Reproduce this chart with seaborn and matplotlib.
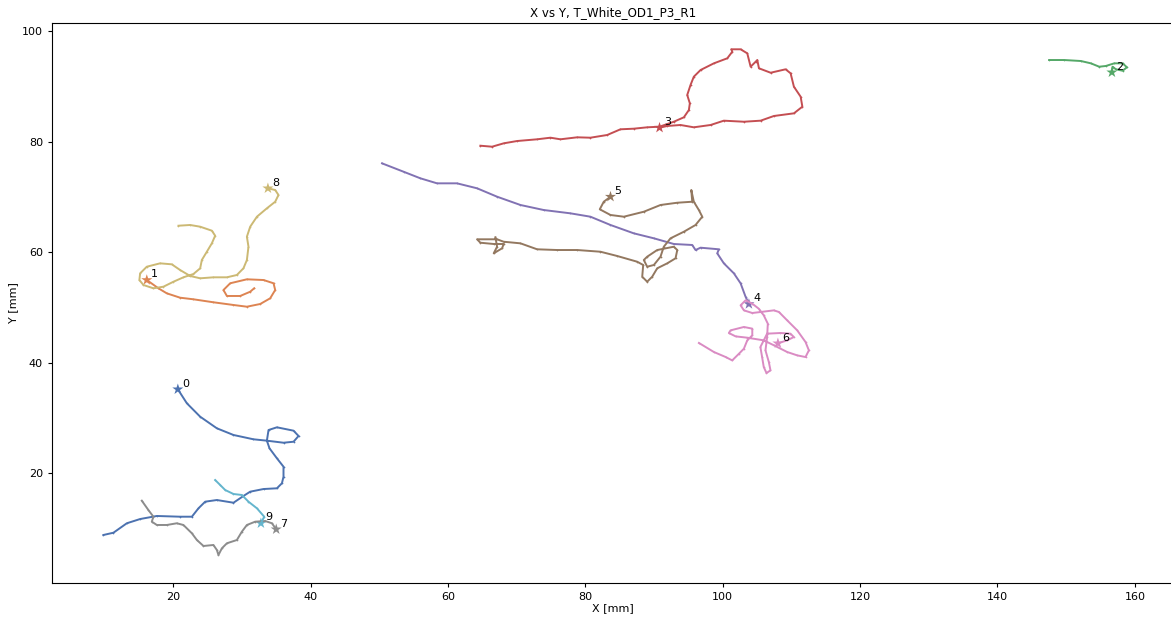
"""
Trajectory plot - X vs Y positions of tracked animals
"""

import numpy as np
import pandas as pd
import matplotlib
matplotlib.use("Agg")
import matplotlib.pyplot as plt
import seaborn as sns

TITLE = "X vs Y, T_White_OD1_P3_R1"

# track 0
x0 = [20.69, 22.0, 23.94, 26.37, 28.79, 31.70, 33.65, 36.07, 37.53, 38.26, 37.53, 35.11, 33.89,
      33.65, 34.03, 35.11, 36.07, 36.07, 35.84, 35.11, 33.16, 31.22, 30.24, 28.79, 26.37, 24.67,
      23.69, 22.73, 21.02, 17.63, 15.20, 13.26, 11.31, 9.85]
y0 = [35.15, 32.62, 30.19, 28.09, 26.88, 26.10, 25.85, 25.48, 25.66, 26.70, 27.66, 28.27, 27.78,
      25.85, 24.47, 22.66, 21.14, 19.33, 18.14, 17.23, 17.10, 16.62, 15.84, 14.62, 15.11, 14.81,
      13.61, 12.09, 12.09, 12.22, 11.67, 10.90, 9.19, 8.78]

# track 1
x1 = [16.17, 17.86, 19.08, 21.02, 22.96, 25.87, 28.79, 30.74, 32.68, 34.13, 34.86, 34.62, 33.16,
      30.74, 28.31, 27.33, 27.83, 29.76, 31.22, 31.80]
y1 = [54.93, 53.43, 52.52, 51.73, 51.44, 50.90, 50.41, 50.10, 50.59, 51.62, 53.12, 54.34, 54.93,
      55.06, 54.34, 53.12, 52.04, 52.04, 52.81, 53.43]

# track 2
x2 = [156.66, 156.76, 157.24, 158.22, 158.85, 158.22, 157.00, 155.78, 154.81, 153.60, 152.14,
      149.71, 147.52]
y2 = [92.52, 93.54, 93.07, 92.81, 93.43, 94.15, 94.15, 93.67, 93.54, 94.15, 94.57, 94.75, 94.75]

# track 3
x3 = [90.81, 91.93, 93.86, 95.80, 98.24, 100.17, 103.09, 105.52, 107.46, 110.37, 111.60, 111.35,
      110.37, 109.89, 109.16, 106.98, 105.28, 105.04, 104.80, 104.07, 103.58, 102.61, 101.25,
      101.40, 100.67, 98.72, 96.78, 95.80, 95.32, 94.84, 95.22, 95.08, 94.35, 92.89, 90.81,
      89.01, 87.06, 85.12, 83.19, 80.75, 78.82, 76.38, 74.93, 72.99, 70.08, 68.12, 66.43, 64.73]
y3 = [82.50, 82.81, 82.99, 82.57, 82.99, 83.77, 83.58, 83.77, 84.62, 85.10, 86.30, 88.11, 89.92,
      92.34, 93.07, 92.45, 93.25, 94.75, 94.44, 93.54, 95.96, 96.69, 96.69, 96.25, 95.06, 94.15,
      92.94, 91.73, 90.23, 88.42, 86.91, 85.70, 84.38, 83.58, 82.68, 82.57, 82.32, 82.21, 81.18,
      80.69, 80.76, 80.40, 80.69, 80.40, 80.09, 79.67, 79.06, 79.24]

# track 4
x4 = [103.82, 103.33, 102.61, 101.63, 100.17, 99.21, 99.45, 96.78, 96.05, 95.57, 92.89, 89.98,
      87.06, 83.67, 80.75, 77.84, 73.95, 70.56, 67.16, 64.25, 61.33, 58.42, 55.99, 53.55, 50.41]
y4 = [50.59, 51.91, 54.33, 56.14, 57.95, 59.76, 60.49, 60.78, 60.36, 61.27, 61.45, 62.48, 63.38,
      64.89, 66.39, 67.00, 67.60, 68.51, 70.01, 71.53, 72.43, 72.43, 73.34, 74.53, 76.05]

# track 5
x5 = [83.67, 82.69, 82.11, 83.67, 85.61, 88.52, 90.95, 93.39, 95.57, 95.43, 95.80, 96.53, 97.03,
      96.05, 94.35, 92.41, 91.43, 90.95, 89.98, 89.01, 88.52, 89.01, 90.47, 92.89, 93.39, 93.14,
      91.93, 90.47, 89.74, 89.01, 88.29, 88.43, 87.56, 84.64, 82.21, 78.82, 75.90, 72.99, 70.56,
      68.12, 67.16, 64.25, 64.73, 66.67, 68.12, 67.89, 66.67, 67.16, 66.92]
y5 = [70.01, 69.10, 67.73, 66.70, 66.39, 67.29, 68.51, 68.92, 69.10, 71.22, 69.10, 67.60, 66.39,
      64.89, 63.67, 62.48, 60.96, 59.15, 57.65, 57.34, 58.55, 59.15, 60.36, 60.96, 60.36, 58.86,
      57.95, 57.05, 55.53, 54.62, 55.53, 57.65, 58.24, 59.28, 60.05, 60.36, 60.36, 60.49, 61.57,
      61.86, 62.30, 62.30, 61.68, 61.45, 61.45, 60.67, 59.76, 60.96, 62.66]

# track 6
x6 = [108.04, 109.39, 110.36, 109.87, 108.41, 106.47, 105.98, 105.49, 105.74, 105.98, 106.38,
      106.96, 106.72, 106.23, 106.47, 106.57, 105.98, 105.25, 104.31, 103.33, 102.61, 103.09,
      104.31, 105.52, 107.46, 108.19, 109.39, 110.85, 112.06, 112.55, 112.06, 110.85, 109.39,
      107.46, 105.98, 103.58, 101.88, 100.90, 101.15, 103.09, 104.31, 104.31, 103.58, 103.09,
      102.37, 101.39, 100.42, 98.72, 96.54]
y6 = [43.47, 44.01, 44.61, 45.22, 45.34, 45.22, 44.01, 42.80, 40.99, 39.18, 38.09, 38.58, 40.08,
      42.20, 44.61, 47.03, 48.54, 49.74, 50.65, 51.25, 50.35, 49.44, 48.96, 49.14, 49.44, 49.14,
      47.63, 45.82, 43.71, 42.20, 40.99, 41.29, 41.90, 43.11, 44.01, 44.49, 44.73, 45.34, 45.82,
      46.43, 46.13, 44.92, 44.01, 42.50, 41.59, 40.38, 41.00, 41.90, 43.54]

# track 7
x7 = [35.01, 34.38, 33.41, 31.95, 30.74, 30.01, 29.28, 27.83, 27.10, 26.60, 26.37, 25.87, 24.42,
      23.46, 22.73, 21.50, 20.54, 19.08, 17.63, 16.90, 17.13, 16.40, 15.44]
y7 = [9.81, 10.90, 11.31, 11.19, 10.59, 9.38, 7.87, 7.28, 6.37, 5.16, 6.06, 6.97, 6.79, 7.87,
      9.09, 10.59, 10.90, 10.59, 10.59, 11.19, 12.09, 13.30, 14.99]

# track 8
x8 = [33.80, 34.86, 35.34, 34.86, 33.65, 32.20, 31.22, 30.74, 30.97, 30.74, 30.24, 29.28, 27.83,
      25.87, 23.94, 22.48, 21.02, 19.81, 18.11, 16.17, 15.20, 15.09, 15.68, 17.13, 18.59, 20.05,
      21.50, 22.96, 23.94, 24.18, 24.91, 25.64, 26.12, 25.64, 23.94, 22.48, 20.78]
y8 = [71.53, 71.22, 70.32, 69.10, 67.91, 66.39, 64.58, 62.77, 60.96, 58.55, 57.05, 55.84, 55.42,
      55.42, 55.24, 55.66, 56.74, 57.77, 57.95, 57.34, 56.14, 54.93, 54.03, 53.43, 53.72, 54.62,
      55.42, 56.02, 57.05, 58.55, 60.05, 61.57, 62.95, 63.86, 64.58, 64.89, 64.76]

# track 9
x9 = [32.78, 33.26, 32.20, 30.97, 30.01, 28.79, 27.58, 26.85, 26.12]
y9 = [10.90, 12.09, 13.61, 14.81, 16.02, 16.20, 16.92, 17.83, 18.73]

xs = [x0, x1, x2, x3, x4, x5, x6, x7, x8, x9]
ys = [y0, y1, y2, y3, y4, y5, y6, y7, y8, y9]

frames = []
for tid, (xx, yy) in enumerate(zip(xs, ys)):
    frames.append(pd.DataFrame({"x": xx, "y": yy, "track": tid, "step": np.arange(len(xx))}))
df = pd.concat(frames, ignore_index=True)
starts = df[df["step"] == 0]

palette = sns.color_palette("deep", 10)

fig = plt.figure(figsize=(11.71, 6.17), dpi=100)
ax = fig.add_axes([52 / 1171, 1 - 583 / 617, 1122 / 1171, 560 / 617])

# trajectories, one line per track
sns.lineplot(data=df, x="x", y="y", hue="track", units="track", estimator=None, sort=False,
             palette=palette, lw=1.4, marker=".", markersize=2.5, markeredgewidth=0,
             legend=False, ax=ax)
# start point of each track
sns.scatterplot(data=starts, x="x", y="y", hue="track", palette=palette, marker="*", s=70,
                linewidth=0, legend=False, ax=ax)

for _, row in starts.iterrows():
    ax.annotate(str(int(row["track"])), (row["x"], row["y"]), xytext=(3, 2),
                textcoords="offset points", fontsize=8, color="black")

ax.set_xlim(2.37, 165.7)
ax.set_ylim(0.09, 101.45)
ax.set_xticks(range(20, 161, 20))
ax.set_yticks(range(20, 101, 20))
ax.tick_params(labelsize=8, length=3)
ax.set_xlabel("X [mm]", fontsize=8, labelpad=1)
ax.set_ylabel("Y [mm]", fontsize=8, labelpad=3)
ax.set_title(TITLE, fontsize=8.6, pad=5)

fig.savefig("out.png", dpi=100)
